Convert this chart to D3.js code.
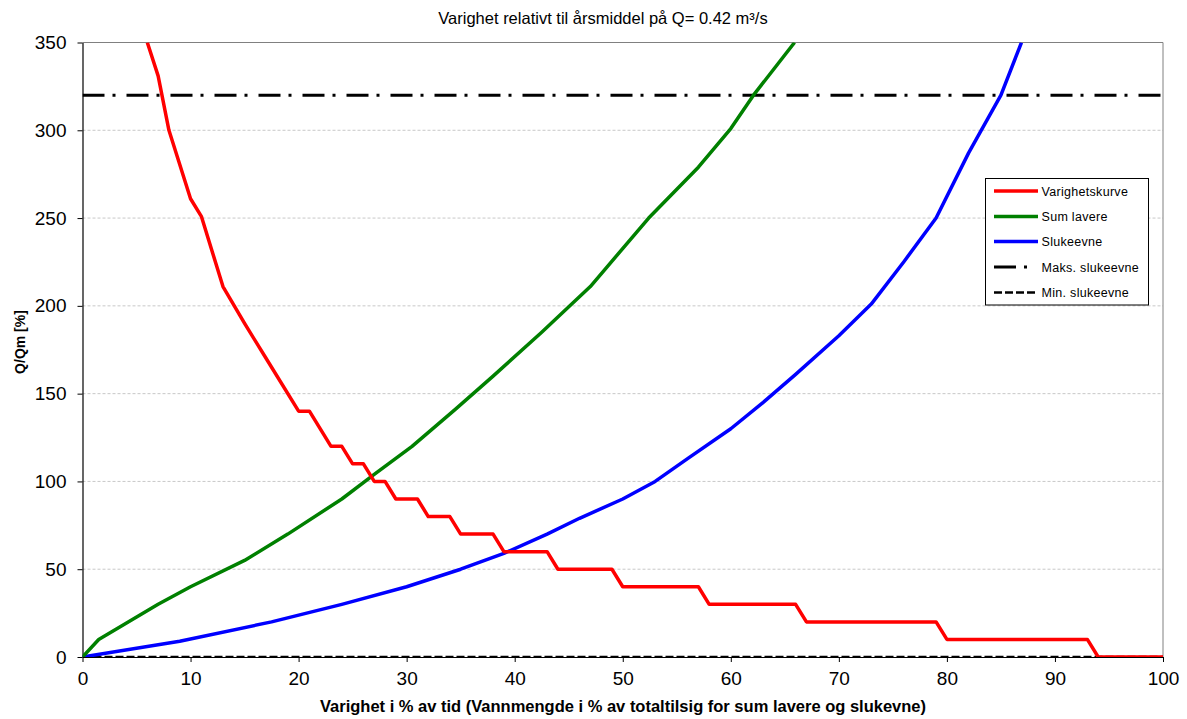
<!DOCTYPE html>
<html><head><meta charset="utf-8">
<script src="https://cdn.jsdelivr.net/npm/d3@7"></script>
<style>body{margin:0;background:#fff}svg{display:block;font-family:Arial,"Liberation Sans",sans-serif}</style>
</head><body><svg id="c" width="1187" height="719"></svg>
<script>
// Data
const varighetX = [6,7,8,10,11,13,15,17,20,21,23,24,25,26,27,28,29,31,32,34,35,38,39,43,44,49,50,57,58,66,67,79,80,93,94,100];
const varighetY = [350,331,300,261,251,211,190,170,140,140,120,120,110,110,100,100,90,90,80,80,70,70,60,60,50,50,40,40,30,30,20,20,10,10,0,0];
const sumLavereX = [0,1.5,7,10,15,19,24,27,30.5,34.5,38,42.5,47,52.4,57,60,62.1,65.9];
const sumLavereY = [0,10,30,40,55,70,90,104,120,141,160,185,211,250,279,301,320,350];
const slukeevneX = [0,9,17.5,24,30,35,39,43,46,50,53,56,60,63,66,70,73,76,79,82,85,86.9];
const slukeevneY = [0,9,20,30,40,50,59,70,79,90,100,113,130,145,161,183,201,225,250,287,320,350];
const maksSlukeevne = 320;
const minSlukeevne = 0;
const xTicks = [0,10,20,30,40,50,60,70,80,90,100];
const yTicks = [0,50,100,150,200,250,300,350];
const legendLabels = ["Varighetskurve","Sum lavere","Slukeevne","Maks. slukeevne","Min. slukeevne"];
const title = "Varighet relativt til årsmiddel på Q= 0.42 m³/s";
const xTitle = "Varighet i % av tid (Vannmengde i % av totaltilsig for sum lavere og slukevne)";
const yTitle = "Q/Qm [%]";

const svg = d3.select("#c");
const L = 82.5, R = 1163, T = 42.5, B = 657;
const x = d3.scaleLinear().domain([0,100]).range([L,R]);
const y = d3.scaleLinear().domain([0,350]).range([B,T]);

// gridlines
svg.append("g").selectAll("line").data(yTicks.filter(d=>d>0 && d<350)).join("line")
  .attr("x1",L).attr("x2",R).attr("y1",d=>y(d)).attr("y2",d=>y(d))
  .attr("stroke","#c8c8c8").attr("stroke-width",1).attr("stroke-dasharray","3,2");
// frame top/right
svg.append("path").attr("d",`M${L},${T}H${R}V${B}`).attr("fill","none").attr("stroke","#808080").attr("stroke-width",1);

// axes
const xAxis = svg.append("g").attr("transform",`translate(0,${B})`)
  .call(d3.axisBottom(x).tickValues(xTicks).tickSize(5).tickSizeOuter(0).tickPadding(10));
const yAxis = svg.append("g").attr("transform",`translate(${L},0)`)
  .call(d3.axisLeft(y).tickValues(yTicks).tickSize(5).tickSizeOuter(0).tickPadding(11));
[xAxis,yAxis].forEach(a=>{
  a.selectAll("text").attr("font-size",19).attr("font-family","Arial, 'Liberation Sans', sans-serif").attr("fill","#000");
  a.select(".domain").attr("stroke","#000").attr("stroke-width",1.2);
  a.selectAll(".tick line").attr("stroke","#000");
});

// clip
svg.append("clipPath").attr("id","clip").append("rect").attr("x",L).attr("y",T).attr("width",R-L).attr("height",B-T);
const g = svg.append("g").attr("clip-path","url(#clip)");
const line = d3.line().x(d=>x(d[0])).y(d=>y(d[1]));

// min / max lines
g.append("line").attr("x1",x(0)).attr("x2",x(100)).attr("y1",y(minSlukeevne)).attr("y2",y(minSlukeevne))
  .attr("stroke","#000").attr("stroke-width",2.5).attr("stroke-dasharray","8,3");
g.append("line").attr("x1",x(0)).attr("x2",x(100)).attr("y1",y(maksSlukeevne)).attr("y2",y(maksSlukeevne))
  .attr("stroke","#000").attr("stroke-width",3).attr("stroke-dasharray","22,8,3,11");

const series = [
  {xs:slukeevneX, ys:slukeevneY, c:"#0000FF"},
  {xs:sumLavereX, ys:sumLavereY, c:"#008000"},
  {xs:varighetX, ys:varighetY, c:"#FF0000"}
];
series.forEach(s=>{
  g.append("path").datum(s.xs.map((v,i)=>[v,s.ys[i]])).attr("d",line)
   .attr("fill","none").attr("stroke",s.c).attr("stroke-width",3.5).attr("stroke-linejoin","round");
});

// legend
const lg = svg.append("g");
lg.append("rect").attr("x",985.5).attr("y",178.5).attr("width",163).attr("height",126.5).attr("fill","#fff").attr("stroke","#000").attr("stroke-width",1);
const rows = [191,216.5,241.5,267,292.5];
const styles = [
  {c:"#FF0000",w:3.5,d:null},{c:"#008000",w:3.5,d:null},{c:"#0000FF",w:3.5,d:null},
  {c:"#000",w:3,d:"22,8,3,11"},{c:"#000",w:2.5,d:"8,3"}
];
legendLabels.forEach((t,i)=>{
  const l = lg.append("line").attr("x1",994).attr("x2",1038).attr("y1",rows[i]).attr("y2",rows[i])
    .attr("stroke",styles[i].c).attr("stroke-width",styles[i].w);
  if(styles[i].d) l.attr("stroke-dasharray",styles[i].d);
  lg.append("text").attr("x",1041.5).attr("y",rows[i]+4.5).attr("font-size",12.5).attr("letter-spacing",0.3).text(t);
});

// titles
svg.append("text").attr("x",603).attr("y",24).attr("text-anchor","middle").attr("font-size",16.5).text(title);
svg.append("text").attr("x",623).attr("y",712).attr("text-anchor","middle").attr("font-size",16.5).attr("font-weight","bold").text(xTitle);
svg.append("text").attr("transform","translate(25,342) rotate(-90)").attr("text-anchor","middle").attr("font-size",14).attr("font-weight","bold").text(yTitle);
</script></body></html>
